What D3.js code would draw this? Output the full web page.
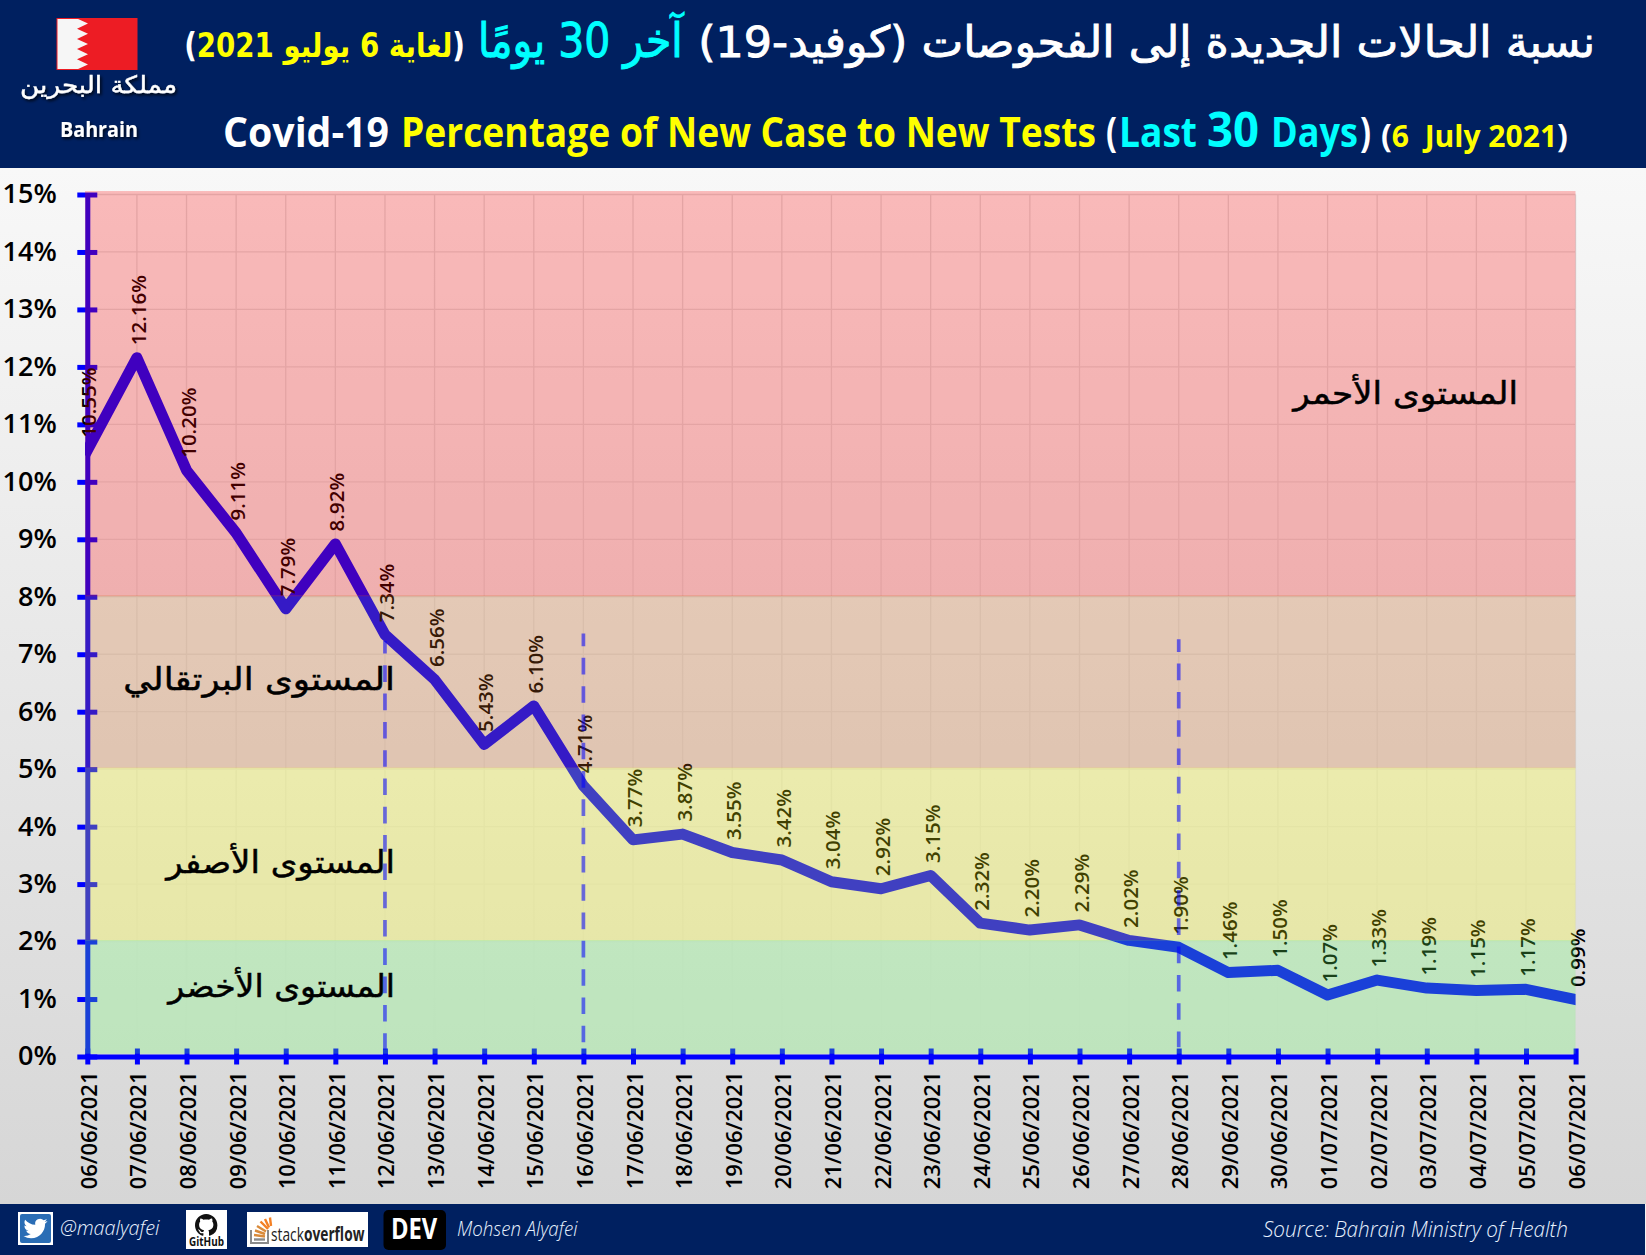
<!DOCTYPE html>
<html lang="ar">
<head>
<meta charset="utf-8">
<script src="https://cdn.jsdelivr.net/npm/d3@7"></script>
<style>
html,body{margin:0;padding:0;background:#f4f4f4;overflow:hidden}
svg{display:block}
text{font-family:"Open Sans",sans-serif}
.ar{font-family:"DejaVu Sans",sans-serif}
</style>
</head>
<body>
<svg id="c" width="1646" height="1255"></svg>
<script>
const dates = ["06/06/2021","07/06/2021","08/06/2021","09/06/2021","10/06/2021","11/06/2021","12/06/2021","13/06/2021","14/06/2021","15/06/2021","16/06/2021","17/06/2021","18/06/2021","19/06/2021","20/06/2021","21/06/2021","22/06/2021","23/06/2021","24/06/2021","25/06/2021","26/06/2021","27/06/2021","28/06/2021","29/06/2021","30/06/2021","01/07/2021","02/07/2021","03/07/2021","04/07/2021","05/07/2021","06/07/2021"];
const values = [10.55,12.16,10.20,9.11,7.79,8.92,7.34,6.56,5.43,6.10,4.71,3.77,3.87,3.55,3.42,3.04,2.92,3.15,2.32,2.20,2.29,2.02,1.90,1.46,1.50,1.07,1.33,1.19,1.15,1.17,0.99];
const yTicks = d3.range(0,16);
const bandTop = [15.06,8,5,2];
const bandBottom = [8,5,2,0.04];
const bandColors = ["rgb(255,0,0)","rgb(212,104,28)","rgb(255,255,8)","rgb(104,255,100)"];
const markerDates = ["12/06/2021","16/06/2021","28/06/2021"];
const markerTop = [7.23,7.36,7.26];
const markerBottom = [-0.13,0.23,0.16];
const levelNames = ["المستوى الأحمر","المستوى البرتقالي","المستوى الأصفر","المستوى الأخضر"];

const svg = d3.select("#c");
const x = d3.scalePoint().domain(dates).range([87.3,1575.6]);
const y = d3.scaleLinear().domain([0,15]).range([1056.5,194.5]);
const NAVY = "#002060", BLUE = "#0000ff";

function fit(sel,x0,x1){
  const b = sel.node().getBBox();
  const k = (x1-x0)/b.width;
  sel.attr("transform",`translate(${x0-b.x*k},0) scale(${k},1)`);
  return sel;
}

const defs = svg.append("defs");
const g = defs.append("linearGradient").attr("id","bg").attr("x1",0).attr("x2",0).attr("y1",0).attr("y2",1);
g.append("stop").attr("offset",0).attr("stop-color","#f8f8f8");
g.append("stop").attr("offset",1).attr("stop-color","#d6d6d6");
defs.append("clipPath").attr("id","plotClip").append("rect").attr("x",85).attr("y",150).attr("width",1490.5).attr("height",950);
const sh = defs.append("filter").attr("id","sh").attr("x","-10%").attr("y","-20%").attr("width","120%").attr("height","150%");
sh.append("feDropShadow").attr("dx",1.5).attr("dy",2).attr("stdDeviation",1.5).attr("flood-color","#000").attr("flood-opacity",.8);

svg.append("rect").attr("x",0).attr("y",168).attr("width",1646).attr("height",1036).attr("fill","url(#bg)");
svg.append("rect").attr("x",0).attr("y",0).attr("width",1646).attr("height",168).attr("fill",NAVY);
svg.append("rect").attr("x",0).attr("y",1204).attr("width",1645).attr("height",51).attr("fill",NAVY);

// grid
const grid = svg.append("g").attr("stroke","#dbdbdb").attr("stroke-width",1.3);
grid.selectAll("line.h").data(yTicks).join("line").attr("class","h")
  .attr("x1",x.range()[0]).attr("x2",x.range()[1]).attr("y1",d=>y(d)).attr("y2",d=>y(d));
grid.selectAll("line.v").data(dates).join("line").attr("class","v")
  .attr("x1",d=>x(d)).attr("x2",d=>x(d)).attr("y1",y(15)).attr("y2",y(0));

// axes
const yAxis = svg.append("g").attr("transform",`translate(${x.range()[0]},0)`)
  .call(d3.axisLeft(y).tickValues(yTicks).tickFormat(d=>d+"%").tickSizeOuter(0));
yAxis.select(".domain").attr("stroke",BLUE).attr("stroke-width",5);
yAxis.selectAll(".tick line").attr("x1",-10).attr("x2",10).attr("stroke",BLUE).attr("stroke-width",5);
yAxis.selectAll(".tick text").attr("x",-30.5).attr("dy",".31em").attr("fill","#000")
  .style("font-family",'"Open Sans",sans-serif').style("font-size","27px").style("font-weight",600).attr("text-anchor","end");

const xAxis = svg.append("g").attr("transform",`translate(0,${y(0)})`)
  .call(d3.axisBottom(x).tickSizeOuter(0));
xAxis.select(".domain").attr("stroke",BLUE).attr("stroke-width",5);
xAxis.selectAll(".tick line").attr("y1",-8).attr("y2",8).attr("stroke",BLUE).attr("stroke-width",5);
xAxis.selectAll(".tick text").attr("transform","translate(9,15) rotate(-90)").attr("x",0).attr("y",0).attr("dy",0)
  .attr("text-anchor","end").attr("fill","#000")
  .style("font-family",'"Open Sans",sans-serif').style("font-size","22px").style("font-weight",600);

// series
const lineGen = d3.line().x((d,i)=>x(dates[i])).y(d=>y(d)).curve(d3.curveLinear);
svg.append("path").datum(values).attr("d",lineGen).attr("fill","none").attr("stroke",BLUE)
  .attr("stroke-width",11).attr("stroke-linejoin","round").attr("stroke-linecap","square").attr("clip-path","url(#plotClip)");

// value labels
svg.selectAll("text.val").data(values).join("text").attr("class","val")
  .attr("transform",(d,i)=>`translate(${x(dates[i])+9},${y(d)-12.5}) rotate(-90)`)
  .attr("fill","#000").style("font-size","20.5px").style("font-weight",600).text(d=>d.toFixed(2)+"%");

// risk bands (translucent, over the line and labels)
svg.selectAll("rect.band").data(bandColors).join("rect").attr("class","band")
  .attr("x",85).attr("width",1490.5)
  .attr("y",(d,i)=>y(bandTop[i])-(i?1.5:0))
  .attr("height",(d,i)=>y(bandBottom[i])-y(bandTop[i])+(i?1:0)-(i<3?.5:0))
  .attr("fill",d=>d).attr("fill-opacity",.25);

// dashed markers (over the bands)
svg.selectAll("line.marker").data(markerDates).join("line").attr("class","marker")
  .attr("x1",d=>x(d)).attr("x2",d=>x(d))
  .attr("y1",(d,i)=>y(markerTop[i])).attr("y2",(d,i)=>y(markerBottom[i]))
  .attr("stroke",BLUE).attr("stroke-opacity",.55).attr("stroke-width",3.7).attr("stroke-dasharray","16.6 11.7").attr("stroke-dashoffset",4);

// level names
const lev = (i,x0,x1,base)=>fit(svg.append("text").attr("class","ar").attr("direction","rtl").attr("y",base)
  .style("font-size","31px").attr("fill","#000").attr("stroke","#000").attr("stroke-width",.5).text(levelNames[i]),x0,x1);
lev(0,1291,1518,404); lev(1,123,395,690); lev(2,164,395,873); lev(3,166,395,997);

// title lines
const seg = (cls,txt,fill,size,base,x0,x1,w)=>fit(svg.append("text").attr("class",cls).attr("y",base)
  .attr("direction",cls==="ar"?"rtl":"ltr").attr("fill",fill).style("font-size",size+"px").style("font-weight",w||700).text(txt),x0,x1);
seg("ar","نسبة الحالات الجديدة إلى الفحوصات (كوفيد-19)","#fff",43,57,698,1595,400).attr("stroke","#fff").attr("stroke-width",.9);
seg("ar","آخر 30 يومًا","#00ffff",48,57,478,685,400).attr("stroke","#00ffff").attr("stroke-width",1);
const y3 = svg.append("text").attr("class","ar").attr("y",57).attr("direction","rtl").attr("fill","#ffff00").style("font-size","33px").style("font-weight",700);
y3.append("tspan").attr("fill","#fff").text("(");
y3.append("tspan").text("لغاية 6 يوليو 2021");
y3.append("tspan").attr("fill","#fff").text(")");
fit(y3,184,465);

const B2 = 146.7;
seg("en","Covid-19","#fff",42,B2,223,389);
seg("en","Percentage of New Case to New Tests","#ffff00",42,B2,401,1096);
seg("en","(","#fff",42,B2,1106,1117);
seg("en","Last","#00ffff",42,B2,1119,1197);
seg("en","30","#00ffff",48,B2,1207,1259);
seg("en","Days","#00ffff",42,B2,1271,1358);
seg("en",")","#fff",42,B2,1360,1371);
const dt = svg.append("text").attr("y",B2).attr("fill","#ffff00").style("font-size","31px").style("font-weight",700).style("white-space","pre");
dt.append("tspan").attr("fill","#fff").style("font-size","33px").text("(");
dt.append("tspan").text("6  July 2021");
dt.append("tspan").attr("fill","#fff").style("font-size","33px").text(")");
fit(dt,1381,1568);

// flag
const flag = svg.append("g");
flag.append("rect").attr("x",57).attr("y",18.5).attr("width",80).attr("height",51).attr("fill","#ed1c24");
const pts = [[57,18.5]];
d3.range(5).forEach(i=>{const t=18.5+i*10.2;pts.push([77,t],[88,t+5.1]);});
pts.push([77,69.5],[57,69.5]);
flag.append("polygon").attr("points",pts.join(" ")).attr("fill","#f6f6f6");
flag.append("rect").attr("x",57).attr("y",18.5).attr("width",80).attr("height",51).attr("fill","none").attr("stroke","#ed1c24").attr("stroke-width",1);
fit(svg.append("text").attr("class","ar").attr("direction","rtl").attr("y",93).attr("fill","#fff").attr("stroke","#fff").attr("stroke-width",.4).style("font-size","24px").attr("filter","url(#sh)").text("مملكة البحرين"),20,177);
fit(svg.append("text").attr("y",137).attr("fill","#fff").style("font-size","21px").style("font-weight",700).attr("filter","url(#sh)").text("Bahrain"),60,138);

// footer
const it = (txt,x0,x1,base,size)=>fit(svg.append("text").attr("y",base).attr("fill","#e8f2ff").style("font-size",size+"px").style("font-style","italic").style("font-weight",300).text(txt),x0,x1);
it("@maalyafei",60,160,1235,20);
it("Mohsen Alyafei",457,578,1236,20);
it("Source: Bahrain Ministry of Health",1263,1568,1237,22);

svg.append("rect").attr("x",18).attr("y",1212).attr("width",35).attr("height",33).attr("fill","#fff");
svg.append("rect").attr("x",20).attr("y",1214).attr("width",31).attr("height",29).attr("rx",2).attr("fill","#2a6db5");
svg.append("path").attr("transform","translate(23.5,1216.5) scale(1)").attr("fill","#fff")
  .attr("d","M23.953 4.57a10 10 0 01-2.825.775 4.958 4.958 0 002.163-2.723c-.951.555-2.005.959-3.127 1.184a4.92 4.92 0 00-8.384 4.482C7.69 8.095 4.067 6.13 1.64 3.162a4.822 4.822 0 00-.666 2.475c0 1.71.87 3.213 2.188 4.096a4.904 4.904 0 01-2.228-.616v.06a4.923 4.923 0 003.946 4.827 4.996 4.996 0 01-2.212.085 4.936 4.936 0 004.604 3.417 9.867 9.867 0 01-6.102 2.105c-.39 0-.779-.023-1.17-.067a13.995 13.995 0 007.557 2.209c9.053 0 13.998-7.496 13.998-13.985 0-.21 0-.42-.015-.63A9.935 9.935 0 0024 4.59z");

svg.append("rect").attr("x",186).attr("y",1210).attr("width",41).attr("height",39).attr("fill","#fff");
svg.append("path").attr("transform","translate(195,1214) scale(1.4)").attr("fill","#111")
  .attr("d","M8 0C3.58 0 0 3.58 0 8c0 3.54 2.29 6.53 5.47 7.59.4.07.55-.17.55-.38 0-.19-.01-.82-.01-1.49-2.01.37-2.53-.49-2.69-.94-.09-.23-.48-.94-.82-1.13-.28-.15-.68-.52-.01-.53.63-.01 1.08.58 1.23.82.72 1.21 1.87.87 2.33.66.07-.52.28-.87.51-1.07-1.78-.2-3.64-.89-3.64-3.95 0-.87.31-1.59.82-2.15-.08-.2-.36-1.02.08-2.12 0 0 .67-.21 2.2.82.64-.18 1.32-.27 2-.27.68 0 1.36.09 2 .27 1.53-1.04 2.2-.82 2.2-.82.44 1.1.16 1.92.08 2.12.51.56.82 1.27.82 2.15 0 3.07-1.87 3.75-3.65 3.95.29.25.54.73.54 1.48 0 1.07-.01 1.93-.01 2.2 0 .21.15.46.55.38A8.013 8.013 0 0016 8c0-4.42-3.58-8-8-8z");
fit(svg.append("text").attr("y",1246).attr("fill","#111").style("font-size","13px").style("font-weight",700).text("GitHub"),189,224);

svg.append("rect").attr("x",247).attr("y",1212).attr("width",121).attr("height",35).attr("fill","#fff");
svg.append("path").attr("d","M251 1230v13h17v-13").attr("fill","none").attr("stroke","#8a8a8a").attr("stroke-width",2);
svg.append("path").attr("d","M254 1239.5h11").attr("stroke","#8a8a8a").attr("stroke-width",2.4);
[[254,1235,265,1236.5],[255,1230.5,265,1234],[257,1226,266,1231.5],[260.5,1221.5,268,1229],[265,1219,269,1227.5],[270,1217.5,271,1226]].forEach(d=>{
  svg.append("line").attr("x1",d[0]).attr("y1",d[1]).attr("x2",d[2]).attr("y2",d[3]).attr("stroke",d[1]<1222?"#f48024":"#d98a3a").attr("stroke-width",2.4);
});
const so = svg.append("text").attr("y",1241).attr("fill","#222").style("font-size","19px");
so.append("tspan").style("font-weight",400).text("stack");
so.append("tspan").style("font-weight",700).text("overflow");
fit(so,271,365);

svg.append("rect").attr("x",383.5).attr("y",1210).attr("width",62.5).attr("height",40).attr("rx",5).attr("fill","#000");
fit(svg.append("text").attr("y",1239).attr("fill","#fff").style("font-size","28px").style("font-weight",700).text("DEV"),391,438);
</script>
</body>
</html>
